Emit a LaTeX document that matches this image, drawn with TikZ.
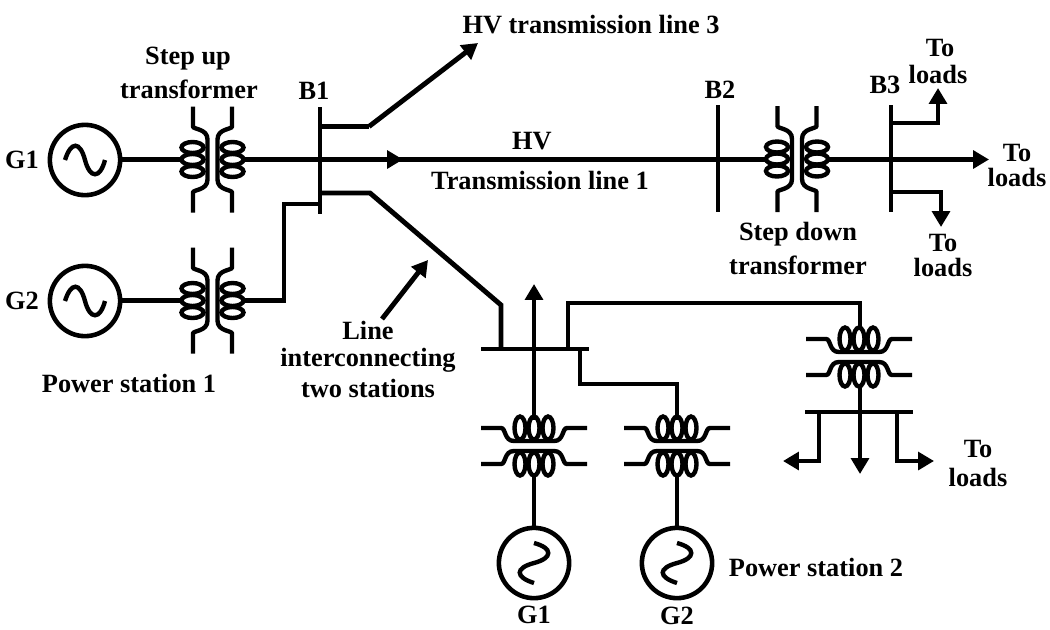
\documentclass[tikz,border=0pt]{standalone}
\usepackage{fontspec}
\setmainfont{Liberation Serif}
\usetikzlibrary{arrows.meta}

\tikzset{
    wire/.style={line width=2.8pt},
    thin wire/.style={line width=2.5pt},
    feed/.style={wire, -{Triangle[length=9pt,width=10pt]}},
    gen/.style={circle, draw, line width=2.6pt, minimum size=40pt, inner sep=0pt},
    lbl/.style={font=\fontsize{15}{15}\selectfont\bfseries, inner sep=0pt},
    pics/wave/.style={code={
        \draw[thin wire] (-20,0) .. controls (-14,-19) and (-5,-19) .. (0,0) .. controls (5,19) and (15,19) .. (20,0);
    }},
    pics/upright/.style={code={
        \foreach \s in {-1,1} {
            \draw[thin wire, xscale=\s] (-19.5,-53) -- (-19.5,-33) .. controls (-19.5,-30) and (-5,-31) .. (-5,-20)
                -- (-5,20) .. controls (-5,31) and (-19.5,30) .. (-19.5,33) -- (-19.5,53);
            \foreach \d in {-12,0,12}
                \draw[thin wire, xscale=\s] (-20,\d) ellipse (11 and 5.5);
        }
    }},
    pics/flat/.style={code={
        \foreach \s in {-1,1} {
            \draw[thin wire, yscale=\s] (-53,-18) -- (-33,-18) .. controls (-28,-18) and (-30,-5) .. (-20,-5)
                -- (20,-5) .. controls (30,-5) and (28,-18) .. (33,-18) -- (53,-18);
            \foreach \d in {-14,0,14}
                \draw[thin wire, yscale=\s] (\d,-18) ellipse (5.5 and 11.5);
        }
    }},
}

\begin{document}
\begin{tikzpicture}[x=0.02cm, y=-0.02cm]
\useasboundingbox (0,0) rectangle (1050,629);

% Generators
\node[gen] (gone) at (85,160) {};
\node[gen] (gtwo) at (85,301) {};
\node[gen] (gthree) at (534,563) {};
\node[gen] (gfour) at (677,563) {};
\pic at (gone) {wave};
\pic at (gtwo) {wave};
\pic[rotate=90] at (gthree) {wave};
\pic[rotate=90] at (gfour) {wave};

% Transformers
\pic at (212.5,159.5) {upright};
\pic at (212.5,300.5) {upright};
\pic at (797,159) {upright};
\pic at (534,446) {flat};
\pic at (677,446) {flat};
\pic at (859,357) {flat};

% Transformer terminals
\coordinate (tonea) at (182,159.5);
\coordinate (toneb) at (243,159.5);
\coordinate (ttwoa) at (182,300.5);
\coordinate (ttwob) at (243,300.5);
\coordinate (tthreea) at (767,159.5);
\coordinate (tthreeb) at (827,159.5);
\coordinate (tfoura) at (534,420);
\coordinate (tfourb) at (534,477);
\coordinate (tfivea) at (677,420);
\coordinate (tfiveb) at (677,477);
\coordinate (tsixa) at (860,328);
\coordinate (tsixb) at (860,387);

% Bus bars
\coordinate (bonetop) at (320,107);
\coordinate (bonebot) at (320,214);
\coordinate (btwotop) at (718,105);
\coordinate (btwobot) at (718,212);
\coordinate (bthreetop) at (891,105);
\coordinate (bthreebot) at (891,212);
\coordinate (bfourl) at (481,349);
\coordinate (bfourr) at (589,349);
\coordinate (bfivel) at (805,412);
\coordinate (bfiver) at (913,412);
\draw[wire] (bonetop) -- (bonebot);
\draw[wire] (btwotop) -- (btwobot);
\draw[wire] (bthreetop) -- (bthreebot);
\draw[wire] (bfourl) -- (bfourr);
\draw[wire] (bfivel) -- (bfiver);

% Station 1 lines
\coordinate (mainmid) at (403,159.5);
\coordinate (mainbus) at (891,159.5);
\coordinate (mainend) at (989,159.5);
\coordinate (bendup) at (284,300.5);
\coordinate (bendbus) at (284,204);
\coordinate (bustap) at (320,204);
\draw[wire] (gone) ++(37,-0.5) -- (tonea);
\draw[wire] (gtwo) ++(37,-0.5) -- (ttwoa);
\draw[wire] (toneb) -- (tthreea);
\draw[feed] (toneb) -- (mainmid);
\draw[wire] (ttwob) -- (bendup) -- (bendbus) -- (bustap);
\draw[wire] (tthreeb) -- (mainbus);
\draw[feed] (mainbus) -- (mainend);

% Lines leaving B1
\coordinate (hvstart) at (320,126.5);
\coordinate (hvknee) at (369,126.5);
\coordinate (hvend) at (478,43);
\coordinate (tiestart) at (320,193);
\coordinate (tieknee) at (370,193);
\coordinate (tiedrop) at (501,305);
\coordinate (tiebus) at (501,349);
\draw[wire] (hvstart) -- (hvknee);
\draw[feed] (hvknee) -- (hvend);
\draw[wire] (tiestart) -- (tieknee) -- (tiedrop) -- (tiebus);

% Loads at B3
\coordinate (upstart) at (891,123);
\coordinate (upknee) at (938,123);
\coordinate (upend) at (938,88);
\coordinate (downstart) at (891,192);
\coordinate (downknee) at (941,192);
\coordinate (downend) at (941,227);
\draw[feed] (upstart) -- (upknee) -- (upend);
\draw[feed] (downstart) -- (downknee) -- (downend);

% Station 2 lines
\coordinate (gridend) at (534,284);
\coordinate (linka) at (568,349);
\coordinate (linkb) at (568,303);
\coordinate (linkc) at (860,303);
\coordinate (tapa) at (580,349);
\coordinate (tapb) at (580,384);
\coordinate (tapc) at (677,384);
\draw[feed] (tfoura) -- (gridend);
\draw[wire] (tfourb) -- (gthree);
\draw[wire] (tfiveb) -- (gfour);
\draw[wire] (linka) -- (linkb) -- (linkc) -- (tsixa);
\draw[wire] (tapa) -- (tapb) -- (tapc) -- (tfivea);

% Local loads
\coordinate (midend) at (860,474);
\coordinate (lefttop) at (819,412);
\coordinate (leftknee) at (819,461);
\coordinate (leftend) at (783,461);
\coordinate (righttop) at (897,412);
\coordinate (rightknee) at (897,461);
\coordinate (rightend) at (934,461);
\draw[feed] (tsixb) -- (midend);
\draw[feed] (lefttop) -- (leftknee) -- (leftend);
\draw[feed] (righttop) -- (rightknee) -- (rightend);

% Pointer
\coordinate (ptail) at (382,319);
\coordinate (ptip) at (428,260);
\draw[feed] (ptail) -- (ptip);

% Labels
\node[lbl] (lone) at (22,160) {G1};
\node[lbl] (ltwo) at (22,301) {G2};
\node[lbl] (lthree) at (534,615) {G1};
\node[lbl] (lfour) at (677,616) {G2};
\node[lbl] (bone) at (314,91) {B1};
\node[lbl] (btwo) at (720,90) {B2};
\node[lbl] (bthree) at (885,85) {B3};
\node[lbl] (stepa) at (188,59) {Step up};
\node[lbl] (stepb) at (189,89) {transformer};
\node[lbl] (stepc) at (798,234) {Step down};
\node[lbl] (stepd) at (798,265) {transformer};
\node[lbl] (hvthree) at (591,25) {HV transmission line 3};
\node[lbl] (hvone) at (532,141) {HV};
\node[lbl] (tlone) at (540,180) {Transmission line 1};
\node[lbl] (psone) at (129,383) {Power station 1};
\node[lbl] (pstwo) at (816,567) {Power station 2};
\node[lbl] (inta) at (368,330) {Line};
\node[lbl] (intb) at (368,360) {interconnecting};
\node[lbl] (intc) at (368,388) {two stations};
\node[lbl] (toa) at (940,48) {To};
\node[lbl] (loa) at (938,74) {loads};
\node[lbl] (tob) at (1017,153) {To};
\node[lbl] (lob) at (1017,177) {loads};
\node[lbl] (toc) at (943,243) {To};
\node[lbl] (loc) at (943,267) {loads};
\node[lbl] (tod) at (978,449) {To};
\node[lbl] (lod) at (978,477) {loads};
\end{tikzpicture}
\end{document}
